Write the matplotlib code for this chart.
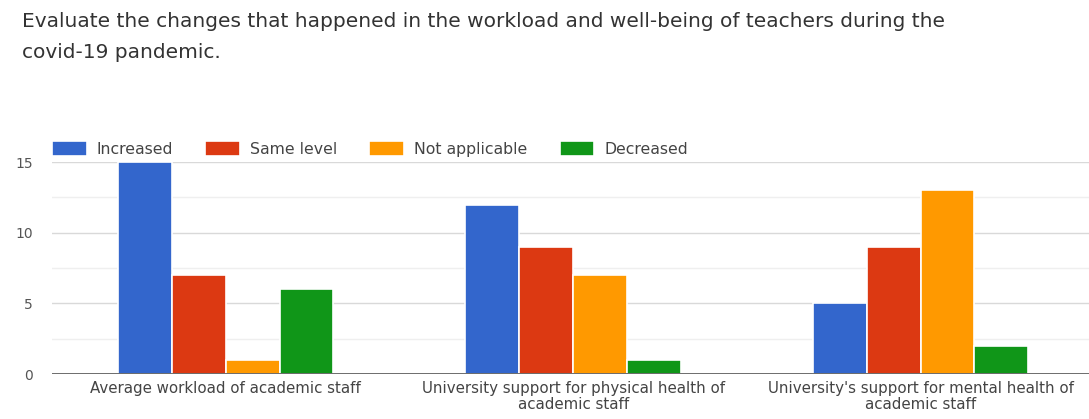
import matplotlib.pyplot as plt
import numpy as np

plt.rcParams['font.family'] = ['DejaVu Sans']

title = ('Evaluate the changes that happened in the workload and well-being of teachers during the\n'
         'covid-19 pandemic.')
categories = ['Average workload of academic staff',
              'University support for physical health of\nacademic staff',
              "University's support for mental health of\nacademic staff"]
series = ['Increased', 'Same level', 'Not applicable', 'Decreased']
increased = [15, 12, 5]
same_level = [7, 9, 9]
not_applicable = [1, 7, 13]
decreased = [6, 1, 2]
colors = ['#3366cc', '#dc3912', '#ff9900', '#109618']

values = [increased, same_level, not_applicable, decreased]

fig = plt.figure(figsize=(10.89, 4.19), dpi=100)
ax = fig.add_axes([0.0478, 0.107, 0.9522, 0.506])

x = np.arange(len(categories))
w = 0.155
for i, (name, vals) in enumerate(zip(series, values)):
    ax.bar(x + (i - 1.5) * w, vals, width=w, color=colors[i], label=name,
           edgecolor='white', linewidth=1.2, zorder=3)

ax.set_xlim(-0.5, 2.485)
ax.set_ylim(0, 15)
ax.set_yticks([0, 5, 10, 15])
ax.set_yticks([2.5, 7.5, 12.5], minor=True)
ax.grid(axis='y', which='major', color='#d9d9d9', linewidth=1, zorder=0)
ax.grid(axis='y', which='minor', color='#efefef', linewidth=1, zorder=0)
ax.axhline(0, color='#555555', linewidth=1.2, zorder=4)
for s in ax.spines.values():
    s.set_visible(False)
ax.tick_params(axis='both', which='both', length=0, colors='#444444')
ax.tick_params(axis='x', pad=5, labelsize=10.8)
ax.tick_params(axis='y', pad=14, labelsize=10, labelcolor='#555555')
ax.set_xticks(x)
ax.set_xticklabels(categories, linespacing=1.05)

fig.text(0.02, 0.972, title, fontsize=14.5, color='#333333', va='top', ha='left',
         linespacing=1.8)

leg = fig.legend(loc='center left', bbox_to_anchor=(0.0478, 0.644), ncol=4, frameon=False,
                 fontsize=11.3, handlelength=2.2, handleheight=1.1, columnspacing=2.05,
                 handletextpad=0.65, borderaxespad=0, borderpad=0)
for t in leg.get_texts():
    t.set_color('#444444')

fig.savefig('out.png', dpi=100, facecolor='white')
